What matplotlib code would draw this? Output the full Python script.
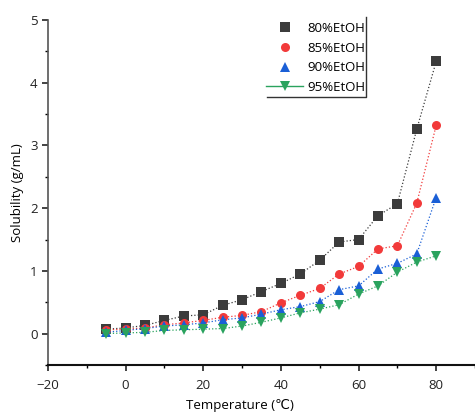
import matplotlib
matplotlib.use("Agg")
import matplotlib.pyplot as plt
from matplotlib.lines import Line2D
from matplotlib.ticker import MultipleLocator

plt.rcParams['font.family'] = ['Open Sans', 'DejaVu Sans']

temps = [-5, 0, 5, 10, 15, 20, 25, 30, 35, 40, 45, 50, 55, 60, 65, 70, 75, 80]
etoh80 = [0.07, 0.09, 0.13, 0.21, 0.28, 0.30, 0.45, 0.54, 0.67, 0.80, 0.95, 1.17,
          1.46, 1.50, 1.88, 2.07, 3.26, 4.34]
etoh85 = [0.06, 0.07, 0.09, 0.14, 0.17, 0.21, 0.26, 0.29, 0.35, 0.49, 0.61, 0.72,
          0.95, 1.07, 1.35, 1.40, 2.08, 3.32]
etoh90 = [0.02, 0.05, 0.08, 0.12, 0.14, 0.17, 0.22, 0.25, 0.31, 0.38, 0.43, 0.51,
          0.70, 0.76, 1.03, 1.12, 1.27, 2.17]
etoh95 = [0.00, 0.01, 0.02, 0.05, 0.06, 0.07, 0.08, 0.12, 0.18, 0.25, 0.33, 0.39,
          0.46, 0.63, 0.76, 0.98, 1.14, 1.24]

series = [
    ("80%EtOH", etoh80, "#3c3c3c", "s"),
    ("85%EtOH", etoh85, "#f23a3a", "o"),
    ("90%EtOH", etoh90, "#1a5fd6", "^"),
    ("95%EtOH", etoh95, "#2aa35e", "v"),
]

fig = plt.figure(figsize=(4.75, 4.18), dpi=100)
ax = fig.add_axes([0.101, 0.127, 0.899, 0.825])

for name, vals, col, mk in series:
    ax.plot(temps, vals, linestyle=':', linewidth=0.9, color=col,
            marker=mk, markersize=6.5, markeredgewidth=0)

ax.set_xlim(-20, 90)
ax.set_ylim(-0.5, 5)
ax.xaxis.set_major_locator(MultipleLocator(20))
ax.xaxis.set_minor_locator(MultipleLocator(10))
ax.yaxis.set_major_locator(MultipleLocator(1))
ax.yaxis.set_minor_locator(MultipleLocator(0.5))
ax.spines['top'].set_visible(False)
ax.spines['right'].set_visible(False)
ax.spines['left'].set_color('#555555')
ax.spines['left'].set_linewidth(1.2)
ax.spines['bottom'].set_color('#111111')
ax.spines['bottom'].set_linewidth(1.5)
ax.tick_params(which='major', direction='out', length=4, width=1.2, labelsize=9.5,
               colors='#222222')
ax.tick_params(which='minor', direction='out', length=2.5, width=1)
ax.tick_params(axis='x', pad=6)

ax.set_xlabel("Temperature (℃)", fontsize=9.5)
ax.xaxis.set_label_coords(0.45, -0.1)
ax.set_ylabel("Solubility (g/mL)", fontsize=9.5, labelpad=4)

handles = []
for i, (name, vals, col, mk) in enumerate(series):
    ls = '-' if i == 3 else 'none'
    handles.append(Line2D([], [], color=col, linestyle=ls, linewidth=1,
                          marker=mk, markersize=6.5, markeredgewidth=0, label=name))
leg = ax.legend(handles=handles, loc='upper left', bbox_to_anchor=(0.487, 1.025),
                frameon=False, fontsize=9.5, handlelength=2.8, handletextpad=0.3,
                labelspacing=0.5, borderpad=0.3)

# right/bottom border of the legend box
fig.add_artist(Line2D([0.771, 0.771, 0.562], [0.96, 0.768, 0.768],
                      color='#333333', linewidth=1, transform=fig.transFigure))

fig.savefig("out.png", dpi=100)
